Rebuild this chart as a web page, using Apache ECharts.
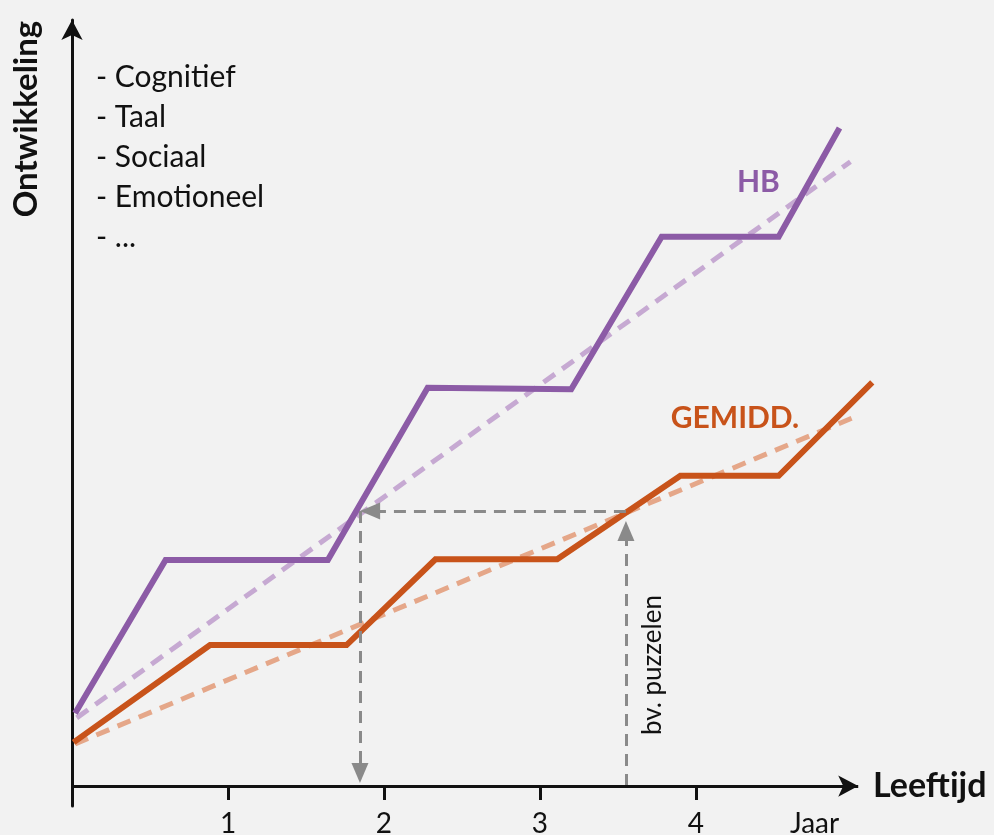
<!DOCTYPE html>
<html>
<head>
<meta charset="utf-8">
<script src="https://cdn.jsdelivr.net/npm/echarts@6/dist/echarts.min.js"></script>
<style>
  html, body { margin: 0; padding: 0; background: #f2f2f2; }
  #chart { width: 994px; height: 835px; }
</style>
</head>
<body>
<div id="chart"></div>
<script>
// leeftijd (jaar) / ontwikkeling (relatieve eenheden)
const hbLine = [[0.02, 9.5], [0.6, 29.5], [1.64, 29.5], [2.28, 52.0], [3.2, 51.8], [3.78, 71.7], [4.53, 71.7], [4.92, 85.9]]
const gemLine = [[0.01, 5.7], [0.885, 18.4], [1.76, 18.4], [2.33, 29.6], [3.11, 29.6], [3.9, 40.5], [4.53, 40.5], [5.13, 52.7]]
const hbTrend = [[0.03, 8.9], [4.99, 81.5]]
const gemTrend = [[0.02, 5.5], [5.02, 48.2]]
// voorbeeld: puzzelen
const puzzelX = [1.846, 3.551]
const puzzelY = 35.9
const axisEnd = 5.04
const tickValues = [0, 1, 2, 3, 4]
const labelValues = [1, 2, 3, 4, 4.76]
const listText = ['- Cognitief', '- Taal', '- Sociaal', '- Emotioneel', '- ...']

const FONT = 'Lato, "Noto Sans", sans-serif'
const PURPLE = '#8c5ba6'
const ORANGE = '#c8531a'
const GREY = '#8a8a8a'

const chart = echarts.init(document.getElementById('chart'))

const option = {
  backgroundColor: '#f2f2f2',
  animation: false,
  textStyle: { fontFamily: FONT },
  grid: { left: 72, right: 118, top: 20, bottom: 29, outerBoundsMode: 'none' },
  xAxis: {
    type: 'value',
    min: 0,
    max: 5.154,
    name: 'Leeftijd',
    nameLocation: 'end',
    nameGap: -3,
    nameTextStyle: { fontSize: 34, fontWeight: 'bold', color: '#111', fontFamily: FONT },
    splitLine: { show: false },
    axisLine: { show: false, onZero: true },
    axisTick: { show: true, customValues: tickValues, length: 14, lineStyle: { color: '#111', width: 3 } },
    axisLabel: {
      customValues: labelValues,
      fontSize: 28,
      color: '#111',
      margin: 4,
      formatter: v => (v > 4.5 ? 'Jaar' : String(v))
    }
  },
  yAxis: {
    type: 'value',
    min: -2.6,
    max: 100,
    splitLine: { show: false },
    axisTick: { show: false },
    axisLabel: { show: false },
    axisLine: {
      lineStyle: { color: '#111', width: 3 },
      symbol: ['none', 'arrow'],
      symbolSize: [16, 20]
    }
  },
  graphic: [
    {
      type: 'text',
      x: 26,
      y: 119,
      rotation: Math.PI / 2,
      style: {
        text: 'Ontwikkeling',
        fill: '#111',
        font: 'bold 33px ' + FONT,
        align: 'center',
        verticalAlign: 'middle'
      }
    },
    {
      type: 'text',
      left: 96,
      top: 57,
      style: {
        text: listText.join('\n'),
        fill: '#111',
        font: '30px ' + FONT,
        lineHeight: 40
      }
    }
  ],
  series: [
    {
      type: 'line',
      data: hbTrend,
      showSymbol: false,
      lineStyle: { color: '#c6a9d2', width: 5, type: [14, 9] }
    },
    {
      type: 'line',
      data: gemTrend,
      showSymbol: false,
      lineStyle: { color: '#e5a789', width: 5, type: [14, 9] }
    },
    {
      type: 'line',
      data: hbLine,
      showSymbol: false,
      lineStyle: { color: PURPLE, width: 6, join: 'miter' }
    },
    {
      type: 'line',
      data: gemLine,
      showSymbol: false,
      lineStyle: { color: ORANGE, width: 6, join: 'miter' }
    },
    {
      type: 'line',
      data: [],
      markLine: {
        silent: true,
        symbol: ['none', 'triangle'],
        symbolSize: [17, 20],
        label: { show: false },
        itemStyle: { color: GREY },
        lineStyle: { color: GREY, width: 3, type: [12, 8] },
        data: [
          [{ coord: [puzzelX[1], puzzelY] }, { coord: [puzzelX[0] + 0.065, puzzelY] }],
          [{ coord: [puzzelX[0], puzzelY] }, { coord: [puzzelX[0], 1.7] }],
          [{ coord: [puzzelX[1], 0] }, { coord: [puzzelX[1], puzzelY - 2.6] }],
          // x-as met pijl
          [
            { coord: [0, 0], symbol: 'none', lineStyle: { color: '#111', width: 3, type: 'solid' } },
            { coord: [axisEnd, 0], symbol: 'arrow', symbolSize: [16, 20], itemStyle: { color: '#111' } }
          ]
        ]
      }
    },
    {
      type: 'scatter',
      symbolSize: 0,
      itemStyle: { opacity: 1 },
      data: [
        { value: [4.4, 78.8], label: { formatter: 'HB', color: PURPLE, fontSize: 30, fontWeight: 'bold' } },
        { value: [4.25, 48.0], label: { formatter: 'GEMIDD.', color: ORANGE, fontSize: 30, fontWeight: 'bold' } },
        { value: [3.72, 15.8], label: { formatter: 'bv. puzzelen', color: '#111', fontSize: 26, rotate: 90 } }
      ],
      label: { show: true, position: 'inside', fontFamily: FONT, textBorderWidth: 0 }
    }
  ]
}

chart.setOption(option)
</script>
</body>
</html>
